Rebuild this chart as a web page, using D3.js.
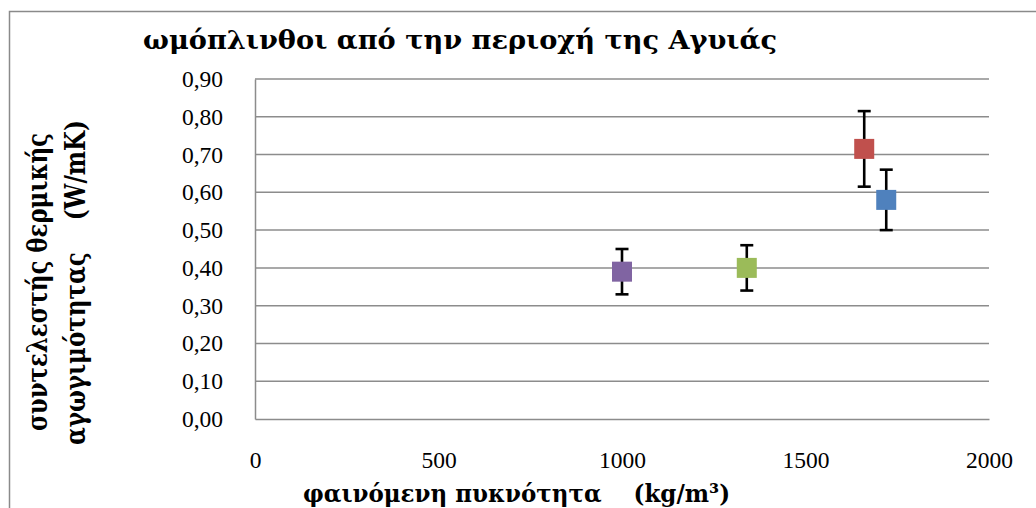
<!DOCTYPE html>
<html>
<head>
<meta charset="utf-8">
<script src="https://cdn.jsdelivr.net/npm/d3@7"></script>
<style>
  html, body { margin: 0; padding: 0; background: #fff; }
  svg { display: block; }
  svg text { fill: #000; }
</style>
</head>
<body>
<svg id="chart" width="1036" height="508"></svg>
<script>
// Brick samples: apparent density (kg/m3) vs thermal conductivity (W/mK)
const density = [1000, 1340, 1660, 1720];
const conductivity = [0.39, 0.40, 0.715, 0.58];
const errors = [0.06, 0.06, 0.10, 0.08];
const colors = ["#8064A2", "#9BBB59", "#C0504D", "#4F81BD"];
const xTicks = [0, 500, 1000, 1500, 2000];
const yTicks = [0, 0.1, 0.2, 0.3, 0.4, 0.5, 0.6, 0.7, 0.8, 0.9];

const svg = d3.select("#chart");
const plotLeft = 255, plotRight = 989, plotTop = 79, plotBottom = 419;
const serif = "'Liberation Serif', 'Times New Roman', serif";
const greekSerif = "'DejaVu Serif', 'Liberation Serif', serif";

const x = d3.scaleLinear().domain([0, 2000]).range([plotLeft, plotRight]);
const y = d3.scaleLinear().domain([0, 0.9]).range([plotBottom, plotTop]);
const fmt = v => d3.format(".2f")(v).replace(".", ",");

// Outer chart frame
svg.append("rect")
  .attr("x", 9.5).attr("y", 11.5).attr("width", 1040).attr("height", 520)
  .attr("fill", "none").attr("stroke", "#8a8a8a").attr("stroke-width", 1.5);

// Horizontal gridlines
svg.append("g").selectAll("line").data(yTicks.filter(d => d > 0)).join("line")
  .attr("x1", plotLeft).attr("x2", plotRight)
  .attr("y1", d => y(d)).attr("y2", d => y(d))
  .attr("stroke", "#8c8c8c").attr("stroke-width", 1.5);

// Y axis
const yAxis = svg.append("g").attr("transform", `translate(${plotLeft},0)`)
  .call(d3.axisLeft(y).tickValues(yTicks).tickFormat(fmt).tickSize(0).tickPadding(32))
  .attr("font-family", serif);
yAxis.select(".domain").attr("stroke", "#8c8c8c").attr("stroke-width", 1.5);
yAxis.selectAll("text").attr("font-size", 23.5).style("font-family", serif);

// X axis
const xAxis = svg.append("g").attr("transform", `translate(0,${plotBottom})`)
  .call(d3.axisBottom(x).tickValues(xTicks).tickFormat(d3.format("d")).tickSize(0).tickPadding(32))
  .attr("font-family", serif);
xAxis.select(".domain").attr("stroke", "#8c8c8c").attr("stroke-width", 1.5);
xAxis.selectAll("text").attr("font-size", 23.5).style("font-family", serif);

// Error bars
const eb = svg.append("g").attr("stroke", "#000").attr("stroke-width", 2.6);
density.forEach((d, i) => {
  const cx = x(d);
  eb.append("line").attr("x1", cx).attr("x2", cx)
    .attr("y1", y(conductivity[i] + errors[i])).attr("y2", y(conductivity[i] - errors[i]));
  [1, -1].forEach(s => {
    eb.append("line").attr("x1", cx - 6.5).attr("x2", cx + 6.5)
      .attr("y1", y(conductivity[i] + s * errors[i])).attr("y2", y(conductivity[i] + s * errors[i]));
  });
});

// Square markers
const ms = 20;
svg.append("g").selectAll("rect").data(density).join("rect")
  .attr("x", d => x(d) - ms / 2)
  .attr("y", (d, i) => y(conductivity[i]) - ms / 2)
  .attr("width", ms).attr("height", ms)
  .attr("fill", (d, i) => colors[i]);

// Title
svg.append("text").attr("x", 143).attr("y", 49)
  .attr("font-size", 26).attr("font-weight", "bold").style("font-family", greekSerif)
  .attr("textLength", 634).attr("lengthAdjust", "spacingAndGlyphs")
  .text("ωμόπλινθοι από την περιοχή της Αγυιάς");

// X axis title
svg.append("text").attr("x", 303).attr("y", 502)
  .attr("font-size", 25).attr("font-weight", "bold").style("font-family", greekSerif)
  .attr("textLength", 427).attr("lengthAdjust", "spacingAndGlyphs")
  .text("φαινόμενη πυκνότητα\u00a0\u00a0\u00a0\u00a0(kg/m\u00b3)");

// Y axis title (two lines)
const yt = svg.append("text").attr("transform", "translate(0,282) rotate(-90)")
  .attr("font-size", 27).attr("font-weight", "bold").style("font-family", greekSerif);
yt.append("tspan").attr("x", -149).attr("y", 47)
  .attr("textLength", 298).attr("lengthAdjust", "spacingAndGlyphs")
  .text("συντελεστής θερμικής");
yt.append("tspan").attr("x", -163).attr("y", 85)
  .attr("textLength", 325).attr("lengthAdjust", "spacingAndGlyphs")
  .text("αγωγιμότητας\u00a0\u00a0\u00a0\u00a0(W/mK)");
</script>
</body>
</html>
